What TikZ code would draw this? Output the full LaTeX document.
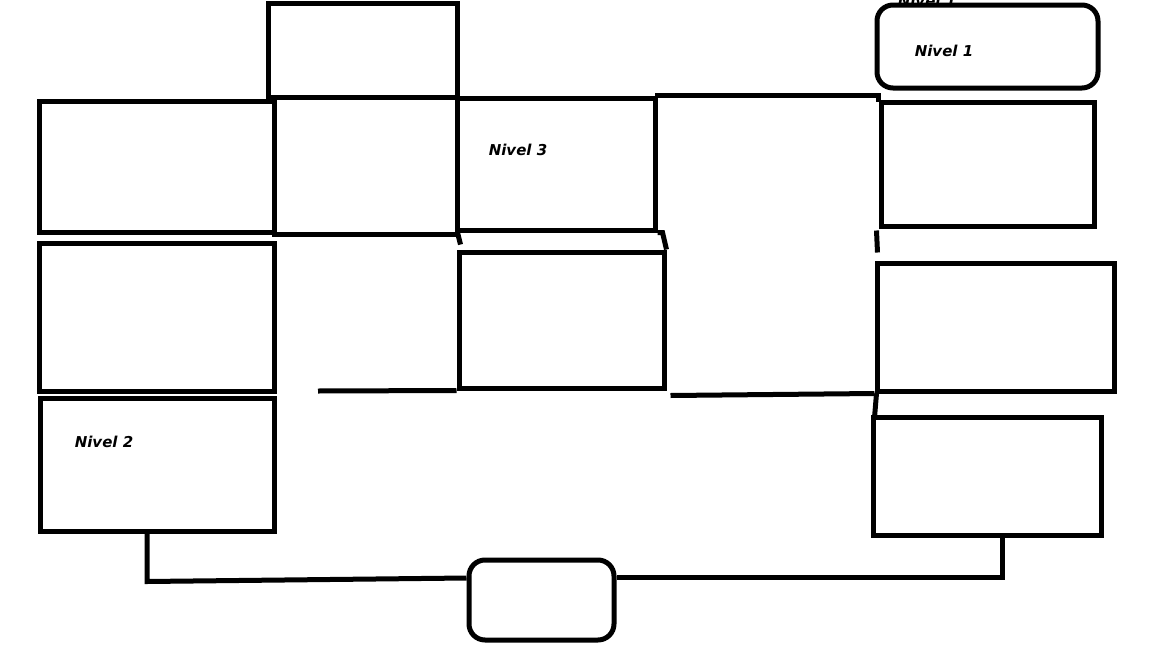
\documentclass[tikz,border=0pt]{standalone}
\usepackage{fontspec}
\newfontfamily\etiqueta{DejaVu Sans}
\usetikzlibrary{positioning}

\begin{document}
\begin{tikzpicture}[
    x=1pt, y=-1pt,
    caja/.style={draw, line width=5pt, inner sep=0pt},
    redonda/.style={caja, rounded corners=16pt},
    linea/.style={line width=5pt},
    nivel/.style={font=\etiqueta\bfseries\itshape\fontsize{15}{17}\selectfont}
]
\useasboundingbox (0,0) rectangle (1152,648);

% Columna izquierda
\node[caja, minimum width=235, minimum height=131] (izq1) at (156.5, 166.5) {};
\node[caja, minimum width=235, minimum height=148] (izq2) at (156.5, 317) {};
\node[caja, minimum width=234, minimum height=133] (nivel2) at (157, 464.5) {};
\node[nivel] (t2) at (104, 442) {Nivel 2};

% Centro
\node[caja, minimum width=189, minimum height=94] (arriba) at (362.5, 50) {};
\node[caja, minimum width=183, minimum height=137] (centro1) at (365.5, 165.5) {};
\node[caja, minimum width=198, minimum height=132] (nivel3) at (556, 164) {};
\node[nivel] (t3) at (518, 150) {Nivel 3};
\node[caja, minimum width=205, minimum height=136] (centro2) at (561.5, 320) {};

% Columna derecha
\node[redonda, minimum width=221, minimum height=83] (nivel1) at (987.5, 46.5) {};
\node[nivel] (t1) at (944, 51) {Nivel 1};
\node[nivel, anchor=base] (t1b) at (927, 6) {Nivel 1};
\node[caja, minimum width=213, minimum height=124] (der1) at (987.5, 164) {};
\node[caja, minimum width=237, minimum height=128] (der2) at (995.5, 327) {};
\node[caja, minimum width=228, minimum height=118] (der3) at (987, 476) {};

% Abajo
\node[redonda, minimum width=145, minimum height=80] (fondo) at (541.5, 600) {};

% Conexiones
\coordinate (suelto) at (318, 391);
\draw[linea, line cap=rect] (nivel3.north east) -| (der1.north west);
\draw[linea] ([xshift=3pt]nivel3.south west) -- ([xshift=4pt,yshift=5pt]centro2.north west);
\draw[linea] (nivel3.south east) -- ++(5,0) -- (centro2.north east);
\draw[linea] (suelto) -- (centro2.south west);
\draw[linea] ([xshift=4pt,yshift=-5pt]centro2.south east) -- (der2.south west);
\draw[linea] ([xshift=-2pt,yshift=-2pt]der1.south west) -- ([xshift=3pt,yshift=8pt]der2.north west);
\draw[linea] ([xshift=2pt]der2.south west) -- ([xshift=4pt,yshift=-3pt]der3.north west);
\draw[linea] ([xshift=-10pt]nivel2.south) -- ++(0,48) -- ([yshift=22pt]fondo.west);
\draw[linea] ([yshift=23pt]fondo.east) -| ([xshift=15pt]der3.south);

\end{tikzpicture}
\end{document}
